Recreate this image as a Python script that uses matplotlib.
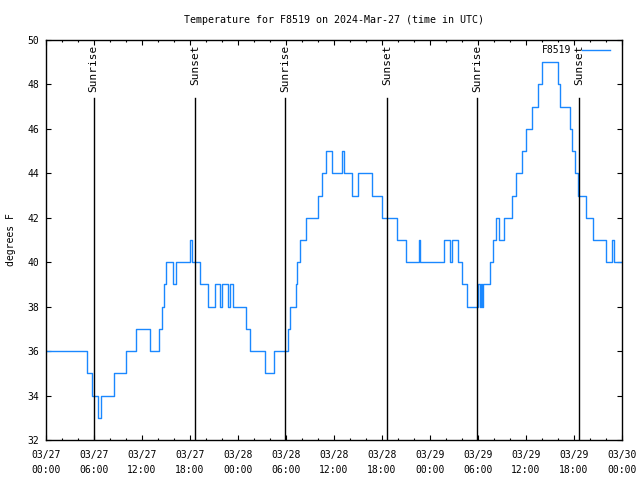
import matplotlib
matplotlib.use("Agg")
import matplotlib.pyplot as plt
from matplotlib.ticker import MultipleLocator, FixedLocator
import numpy as np

plt.rcParams['font.family'] = ['DejaVu Sans Mono']
FS = 7

# change points: hours since 03/27 00:00 UTC, temperature (deg F), steps-post
hours = [0, 5.1, 5.8, 6.45, 6.9, 8.5, 10.0, 11.3, 13.0, 14.1, 14.5, 14.75, 15.06,
         15.9, 16.25, 17.94, 18.3, 19.2, 20.25, 21.1, 21.75, 22.06, 22.7, 23.0,
         23.4, 25.0, 25.5, 27.4, 28.5, 30.2, 30.5, 31.2, 31.4, 31.7, 32.45, 33.95,
         34.56, 35.0, 35.8, 37.06, 37.25, 38.2, 38.94, 40.8, 42.06, 43.9, 45.06,
         46.6, 46.8, 49.8, 50.5, 50.75, 51.56, 52.06, 52.6, 54.0, 54.2, 54.4, 54.5,
         54.66, 55.56, 55.9, 56.3, 56.6, 57.25, 58.25, 58.7, 59.5, 60.06, 60.8,
         61.56, 62.06, 63.96, 64.3, 65.5, 65.75, 66.1, 66.56, 67.56, 68.4, 70.06,
         70.8, 71.0, 72.0]
temps = [36, 35, 34, 33, 34, 35, 36, 37, 36, 37, 38, 39, 40,
         39, 40, 41, 40, 39, 38, 39, 38, 39, 38, 39,
         38, 37, 36, 35, 36, 37, 38, 39, 40, 41, 42, 43,
         44, 45, 44, 45, 44, 43, 44, 43, 42, 41, 40,
         41, 40, 41, 40, 41, 40, 39, 38, 39, 38, 39, 38,
         39, 40, 41, 42, 41, 42, 43, 44, 45, 46, 47,
         48, 49, 48, 47, 46, 45, 44, 43, 42, 41, 40,
         41, 40, 40]

sunrise_hours = [5.95, 29.92, 53.9]
sunset_hours = [18.67, 42.67, 66.6]

xtick_labels = ["03/27\n00:00", "03/27\n06:00", "03/27\n12:00", "03/27\n18:00",
                "03/28\n00:00", "03/28\n06:00", "03/28\n12:00", "03/28\n18:00",
                "03/29\n00:00", "03/29\n06:00", "03/29\n12:00", "03/29\n18:00",
                "03/30\n00:00"]

fig = plt.figure(figsize=(6.4, 4.8), dpi=100)
ax = fig.add_axes([46/640, 40/480, 576/640, 400/480])

ax.plot(hours, temps, drawstyle='steps-post', color='#1a88ff', lw=1.0, label='F8519')

for h in sunrise_hours:
    ax.axvline(h, ymin=0, ymax=(440-98)/400, color='black', lw=1.0)
    ax.text(h, 1 - 5/400, 'Sunrise', rotation=90, ha='center', va='top',
            fontsize=8, transform=ax.get_xaxis_transform())
for h in sunset_hours:
    ax.axvline(h, ymin=0, ymax=(440-98)/400, color='black', lw=1.0)
    ax.text(h, 1 - 5/400, 'Sunset', rotation=90, ha='center', va='top',
            fontsize=8, transform=ax.get_xaxis_transform())

ax.set_xlim(0, 72)
ax.set_ylim(32, 50)
ax.xaxis.set_major_locator(FixedLocator(np.arange(0, 73, 6)))
ax.set_xticklabels(xtick_labels, fontsize=FS, linespacing=1.6)
ax.xaxis.set_minor_locator(MultipleLocator(2))
ax.yaxis.set_major_locator(MultipleLocator(2))
ax.tick_params(axis='both', which='both', direction='in', top=True, right=True,
               width=0.8, labelsize=FS)
ax.tick_params(axis='both', which='major', length=3.3)
ax.tick_params(axis='both', which='minor', length=1.7)
ax.tick_params(axis='x', which='major', pad=7)
ax.tick_params(axis='y', which='major', pad=5)
for s in ax.spines.values():
    s.set_linewidth(1.0)

ax.set_ylabel('degrees F', fontsize=FS, labelpad=8)
ax.set_title('Temperature for F8519 on 2024-Mar-27 (time in UTC)', fontsize=7.2, pad=12)

leg = ax.legend(loc='upper right', frameon=False, fontsize=FS, markerfirst=False,
                handlelength=2.9, borderaxespad=0.0, handletextpad=1.1,
                borderpad=0.0, bbox_to_anchor=(610/640, 1 - 45/480),
                bbox_transform=fig.transFigure)

fig.savefig('out.png', dpi=100)
